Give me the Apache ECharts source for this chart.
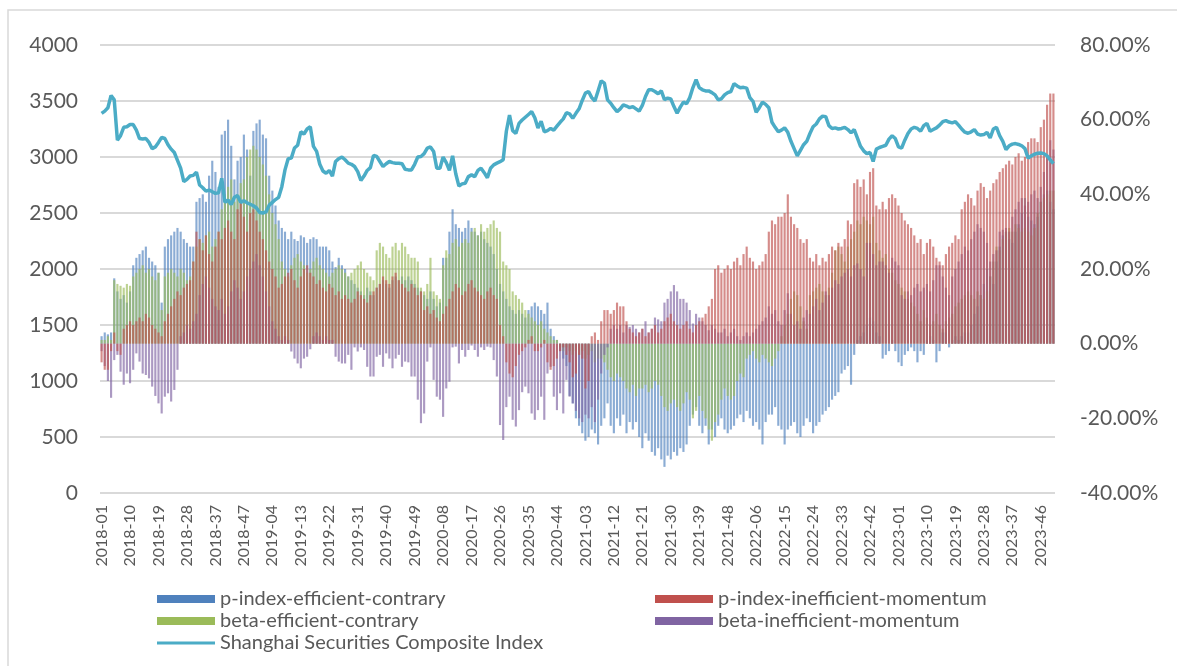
<!DOCTYPE html>
<html>
<head>
<meta charset="utf-8">
<script src="https://cdn.jsdelivr.net/npm/echarts@6/dist/echarts.min.js"></script>
<style>
html,body{margin:0;padding:0;background:#fff;}
#chart{width:1177px;height:666px;}
</style>
</head>
<body>
<div id="chart"></div>
<script>
// Tick labels shown on the category axis (every 9th week)
const tickLabels = ['2018-01','2018-10','2018-19','2018-28','2018-37','2018-47','2019-04','2019-13','2019-22','2019-31','2019-40','2019-49','2020-08','2020-17','2020-26','2020-35','2020-44','2021-03','2021-12','2021-21','2021-30','2021-39','2021-48','2022-06','2022-15','2022-24','2022-33','2022-42','2023-01','2023-10','2023-19','2023-28','2023-37','2023-46'];
const weeksAfterLastTick = 4;

// Shanghai Securities Composite Index (left axis)
const sseIndex = [
3390,3410,3440,3550,3510,3150,3190,3265,3270,3290,
3290,3240,3165,3160,3165,3130,3075,3090,3130,3175,
3165,3110,3070,3040,2970,2900,2780,2800,2830,2836,
2865,2750,2725,2695,2705,2690,2675,2680,2810,2595,
2615,2575,2640,2655,2595,2610,2590,2578,2565,2545,
2505,2500,2510,2570,2595,2620,2640,2735,2885,2985,
2990,3080,3105,3225,3205,3250,3270,3095,3050,2935,
2875,2855,2880,2830,2960,2985,3000,2975,2945,2935,
2915,2870,2790,2830,2880,2905,3015,3005,2960,2915,
2940,2960,2950,2945,2945,2940,2890,2885,2885,2935,
3000,3005,3030,3080,3090,3050,2900,2900,3000,2950,
2880,3010,2850,2740,2760,2765,2825,2840,2825,2880,
2900,2860,2815,2900,2930,2945,2958,2975,3230,3375,
3235,3210,3300,3330,3355,3380,3405,3350,3260,3320,
3225,3235,3255,3240,3275,3310,3340,3395,3385,3345,
3390,3430,3505,3570,3585,3530,3500,3590,3680,3660,
3510,3480,3440,3405,3430,3465,3455,3440,3450,3430,
3410,3460,3540,3600,3600,3585,3565,3590,3512,3525,
3518,3450,3390,3445,3490,3475,3530,3620,3690,3620,
3600,3590,3590,3575,3555,3510,3520,3555,3575,3585,
3655,3635,3618,3622,3615,3530,3497,3400,3440,3490,
3470,3440,3310,3265,3225,3240,3260,3220,3140,3075,
3010,3060,3110,3140,3210,3270,3295,3340,3365,3360,
3280,3255,3260,3250,3255,3265,3245,3215,3245,3170,
3095,3055,3030,3040,2960,3070,3085,3095,3105,3160,
3190,3165,3090,3080,3150,3210,3250,3265,3255,3230,
3280,3300,3230,3245,3260,3285,3315,3325,3312,3305,
3315,3285,3250,3222,3212,3225,3245,3205,3196,3200,
3220,3170,3250,3265,3190,3140,3065,3100,3115,3120,
3112,3100,3075,2990,3010,3025,3033,3035,3030,3010,
2975,2940
];

// p-index-efficient-contrary (%)
const pEffContrary = [
2,3,2.5,3,17.5,14,12,13,11,14,
21,23,24,25,26,23,22,21,19,11,
26,28,29,30,31,30,28,27,26,26,
38,39,40,38,45,49,46,42,56,57,
60,53,44,49,50,56,52,45,57,59,
60,56,55,45,41,37,33,31,30,28,
30,28,27.5,29,28.5,27,28,28.5,28,26,
26,26,25,22,20.5,23,21,20,18,17,
16,15,14,13,15,14,13,15,16,17,
16,15,17,18,17,18,17,18,17,16,
15,14,13,12,14,12,10,11,23,23,
30,36,32,31,30,31,33,31,30,29,
30,28,27,26,24,20,16,14,12,10,
9,8,9,8,7,9,10,11,10,9,
8,11,4,2,1,-2,-4,-6,-14,-16,
-20,-22,-24,-26,-25,-23,-24,-27,-22,-20,
-16,-22,-24,-20,-22,-19,-24,-21,-23,-21,
-25,-28,-24,-26,-29,-30,-28,-31,-33,-30,
-31,-29,-30,-28,-29,-27,-22,-19,-17,-22,
-24,-22,-27,-23,-25,-22,-20,-23,-24,-23,
-22,-20,-19,-21,-18,-20,-22,-21,-23,-27,
-21,-19,-19,-17,-22,-23,-27,-23,-22,-21,
-24,-25,-22,-20,-21,-24,-22,-21,-19,-18,
-17,-15,-14,-13,-8,-7,-6,-11,-3,1,
2,3,5,7,6,3,2,-4,-3,-2,
1,-2,-5,-6,-3,-2,-1,-2,-5,-2,
-3,1,2,1,-5,-2,3,3,-1,1,
2,1,2,3,3,5,8,10,13,16,
20,18,16,22,26,29,30,28,27,30,
32,35,39,34,33,32,34,38,40,41,
38,36
];

// p-index-inefficient-momentum (%)
const pIneffMomentum = [
-5,-7,-7,-2,3,-2,-3,4,5,6,
5,6,7,6,8,7,5,4,3,2,
6,8,10,12,14,13,15,16,17,22,
30,28,25,29,24,22,26,30,28,31,
33,30,28,36,38,34,30,35,36,33,
30,28,25,22,20,18,15,16,18,19,
20,17,15,18,20,21,19,18,16,17,
15,14,16,15,13,14,12,13,12,11,
12,14,13,12,11,13,14,15,16,18,
17,16,18,19,17,16,15,14,16,15,
13,14,9,10,8,9,7,6,8,10,
12,14,16,15,13,14,16,17,15,14,
13,12,14,15,13,12,5,2,-5,-8,
-9,-6,-3,-2,-1,1,2,-2,-2,-1,
1,-5,-7,-6,-4,-2,-1,-3,-5,-9,
-8,-3,-4,-12,-10,2,3,1,6,9,
9,8,9,11,10,10,6,4,3,2,
3,4,2,3,4,5,3,4,6,7,
8,6,5,4,5,6,4,3,5,6,
7,8,10,12,20,21,19,20,21,20,
22,23,21,24,26,23,22,20,21,22,
24,30,33,32,34,34,35,40,34,32,
31,28,27,28,23,22,24,21,23,22,
24,26,25,27,26,28,33,32,43,44,
42,44,40,46,47,37,36,38,36,39,
40,39,37,35,33,32,31,29,27,28,
24,27,28,26,23,22,21,24,26,27,
29,28,36,38,40,39,37,41,43,42,
39,41,43,44,46,47,48,49,48,50,
51,49,50,54,55,55,54,58,60,64,
67,67
];

// beta-efficient-contrary (%)
const betaEffContrary = [
1,1,2,1,17,16,15.5,15,16,15.5,
18,19,20,21,19,20,18,17,19,9,
18,19,20,19,18,20,19,17,18,22,
26,28,27,29,30,26,28,30,36,40,
42,44,38,40,43,44,50,52,53,52,
50,48,45,40,35,32,28,22,20,18,
21,23,24,22,21,19,20,22,23,21,
20,19,18,19,20,21,20,19,18,19,
20,21,22,20,19,18,17,25,27,26,
24,23,26,27,25,27,26,24,23,23,
22,15,14,16,23,14,13,12,21,25,
24,27,28,26,27,28,27,30,31,29,
32,30,31,32,33,31,30,22,21,20,
14,13,12,11,9,8,7,6,5,6,
4,3,2,1,1,-1,-2,-1,-2,-3,
-2,-3,-2,-4,-3,-2,-5,-4,-4,-5,
-7,-9,-10,-8,-9,-10,-12,-13,-11,-14,
-12,-12,-11,-13,-12,-10,-11,-14,-17,-18,
-16,-15,-17,-18,-16,-13,-15,-20,-18,-14,
-18,-20,-23,-26,-21,-19,-15,-12,-14,-15,
-14,-10,-8,-9,-4,-3,-2,-4,-5,-3,
-4,-5,-6,-4,-2,2,5,8,12,14,
13,10,6,4,13,14,15,16,14,13,
15,19,25,26,24,22,26,28,30,33,
32,34,33,32,34,27,25,23,24,20,
19,17,16,15,14,12,11,10,8,6,
9,7,5,6,8,5,4,6,7,8,
10,11,12,13,14,13,12,14,13,12,
14,18,22,26,25,28,30,31,30,32,
31,30,31,30,29,31,35,38,39,40,
41,41
];

// beta-inefficient-momentum (%)
const betaIneffMomentum = [
-2,-6,-10,-14.5,-4.4,-3,-7.5,-11,-8,-10.6,
-7,-2.6,-4.8,-8,-8.4,-9.3,-11.5,-14,-16,-18.7,
-14.2,-13.3,-15.5,-12.4,-7,2,3,5,4,6,
8,13,16,18,15,12,10,9,12,8,
10,14,17,15,12,14,18,20,22,24,
21,18,14,10,6,4,2,1,2,1,
-2.1,-4,-5.3,-6.6,-4,-3.5,-1.5,2,3,2,
1,2,1,1,-3.5,-4.8,-5.3,-5.3,-3,-7,
-1,-2.1,-1,-1.7,-6.2,-8.8,-8.8,-3.5,-3,-6.2,
-2.6,-4,-6.6,-4,-3,-6.2,-4.8,-5,-8.8,-8.8,
-15,-21.3,-18.7,-4.8,-1,-9.7,-14.2,-15,-19.6,-12,
-10.2,-1,-0.8,-5.3,-1.7,-3.5,-1.7,-0.5,-1.7,-3.5,
-1,-1.7,-0.8,-1,-4.4,-8.8,-21.8,-25.8,-17,-14.2,
-20.4,-22.2,-17.8,-13,-11.5,-13.3,-18.7,-20.4,-17.8,-14.2,
-20.4,-8,-6.2,-14.2,-17.8,-13.3,-18.7,-9.7,-14.2,-16,
-18,-20,-21,-19,-20,-17,-21,-15,-8,-3,
-1,4,5,4,5,3,5,4.5,5,4,
3,4,6,3,4,7,6.5,6,11,12,
14,15.7,14,12,12,11,9,5.4,8,7,
6,5,3.6,5,4,3,3,4,2,3,
4,2,1,2,3,2,3,4,5,6,
7,10,8,9,6,5,9,13.5,8,5,
6,4,7,9,8,10,12,9,11,14,
13,15,17,16,18,19,20,18,21,21.5,
20,18,27,27,24,21,22,22,21,19,
23,22,21,13,12,14,13,15,16,14,
15,16,14,17,21,21,18,15,13,18,
20,22,24,26,25,28,30,32,31,30,
27,22,24,25,30,30.5,31,30,34,36,
38,39,37,38,40,41,39,42,46,50,
54.5,52
];

// build the weekly category list from the tick labels
const categories = [];
tickLabels.forEach(function (lab, k) {
  let y = parseInt(lab.slice(0, 4), 10), w = parseInt(lab.slice(5), 10);
  categories.push(lab);
  const extra = k < tickLabels.length - 1 ? 8 : weeksAfterLastTick;
  for (let j = 0; j < extra; j++) {
    w++; if (w > 52) { w = 1; y++; }
    categories.push(y + '-' + (w < 10 ? '0' + w : '' + w));
  }
});

const FONT = 'Lato';
const TXT = '#595959';
const C_BLUE = '#4f81bd', C_RED = '#c0504d', C_GREEN = '#9bbb59', C_PURPLE = '#8064a2', C_LINE = '#4bacc6';
const chart = echarts.init(document.getElementById('chart'), null, {renderer: 'canvas'});

function barSeries(name, data, color, z) {
  return {
    name: name, type: 'bar', yAxisIndex: 1, data: data, z: z,
    barWidth: '68%', barGap: '-100%',
    itemStyle: {color: color, opacity: 0.66},
    silent: true, animation: false
  };
}

const legendText = {fontFamily: FONT, fontSize: 20, color: TXT, lineHeight: 20, padding: 0};

chart.setOption({
  animation: false,
  backgroundColor: '#ffffff',
  graphic: [{
    type: 'rect', silent: true, z: -10,
    shape: {x: 8, y: 10, width: 1200, height: 700},
    style: {fill: 'none', stroke: '#d9d9d9', lineWidth: 1.5}
  }],
  grid: {left: 100, right: 122, top: 45, bottom: 173, containLabel: false},
  legend: [
    {
      orient: 'vertical', left: 152, top: 584, itemWidth: 58, itemHeight: 8, itemGap: 2,
      icon: 'rect', selectedMode: false, textStyle: legendText,
      data: [
        {name: 'p-index-efficient-contrary', itemStyle: {color: C_BLUE, opacity: 1}},
        {name: 'beta-efficient-contrary', itemStyle: {color: C_GREEN, opacity: 1}}
      ]
    },
    {
      orient: 'vertical', left: 650, top: 584, itemWidth: 58, itemHeight: 8, itemGap: 2,
      icon: 'rect', selectedMode: false, textStyle: legendText,
      data: [
        {name: 'p-index-inefficient-momentum', itemStyle: {color: C_RED, opacity: 1}},
        {name: 'beta-inefficient-momentum', itemStyle: {color: C_PURPLE, opacity: 1}}
      ]
    },
    {
      orient: 'vertical', left: 152, top: 628, itemWidth: 58, itemHeight: 3,
      icon: 'rect', selectedMode: false, textStyle: legendText,
      data: [{name: 'Shanghai Securities Composite Index', itemStyle: {color: C_LINE}}]
    }
  ],
  xAxis: {
    type: 'category', data: categories, boundaryGap: true,
    axisLine: {show: false}, axisTick: {show: false},
    axisLabel: {interval: 8, rotate: 90, margin: 12, fontFamily: FONT, fontSize: 16, color: TXT}
  },
  yAxis: [
    {
      type: 'value', min: 0, max: 4000, interval: 500, position: 'left',
      axisLine: {show: false}, axisTick: {show: false},
      splitLine: {show: true, lineStyle: {color: '#d9d9d9', width: 2}},
      axisLabel: {margin: 22, fontFamily: FONT, fontSize: 21, color: TXT,
        formatter: function (v) { return String(v); }}
    },
    {
      type: 'value', min: -40, max: 80, interval: 20, position: 'right',
      axisLine: {show: false}, axisTick: {show: false}, splitLine: {show: false},
      axisLabel: {margin: 25, fontFamily: FONT, fontSize: 21, color: TXT,
        formatter: function (v) { return v.toFixed(2) + '%'; }}
    }
  ],
  series: [
    barSeries('p-index-efficient-contrary', pEffContrary, C_BLUE, 2),
    barSeries('beta-efficient-contrary', betaEffContrary, C_GREEN, 3),
    barSeries('beta-inefficient-momentum', betaIneffMomentum, C_PURPLE, 4),
    barSeries('p-index-inefficient-momentum', pIneffMomentum, C_RED, 5),
    {
      name: 'Shanghai Securities Composite Index', type: 'line', yAxisIndex: 0,
      data: sseIndex, showSymbol: false, symbol: 'none', z: 10,
      lineStyle: {color: C_LINE, width: 3.5}, itemStyle: {color: C_LINE},
      silent: true, animation: false
    }
  ]
});
</script>
</body>
</html>
